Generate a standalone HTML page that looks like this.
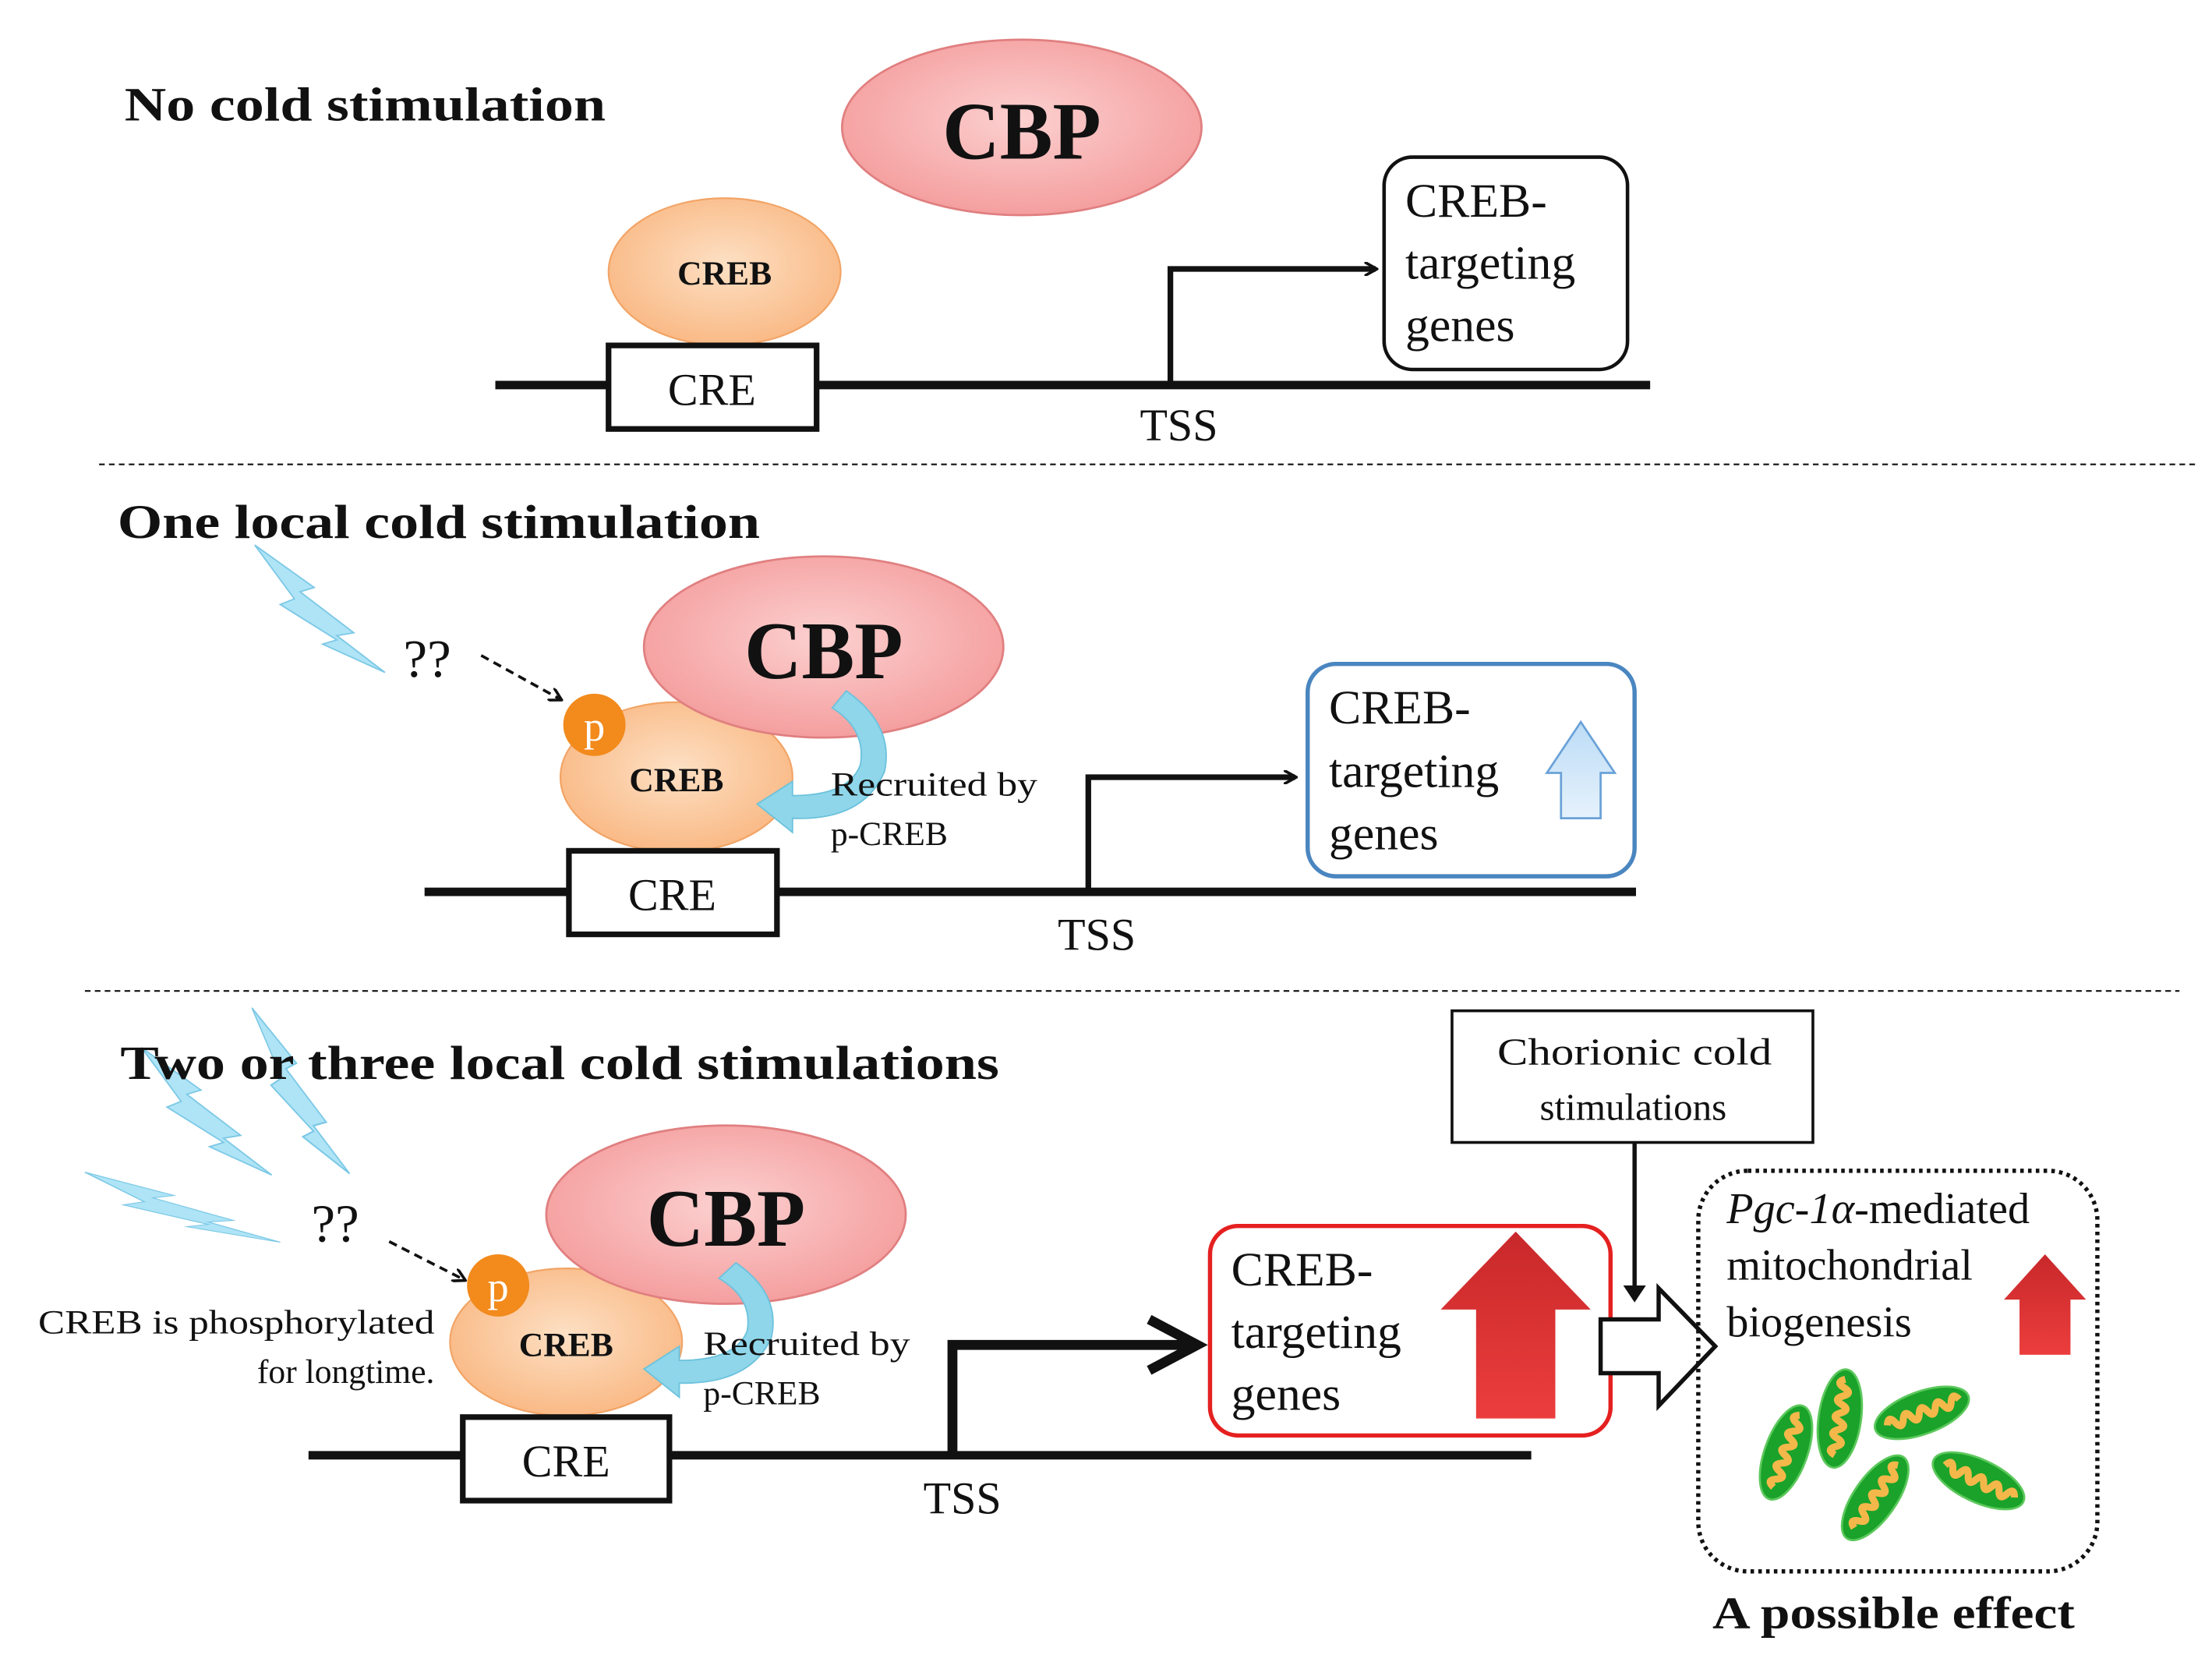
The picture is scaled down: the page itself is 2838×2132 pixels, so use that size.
<!DOCTYPE html>
<html><head><meta charset="utf-8"><style>
html,body{margin:0;padding:0;background:#fff;}
svg{display:block;}
text{font-family:"Liberation Serif",serif;fill:#111;}
.b{font-weight:bold;}
</style></head><body>
<svg width="2838" height="2132" viewBox="0 0 1563 1174" preserveAspectRatio="none" xmlns="http://www.w3.org/2000/svg">
<defs>
<radialGradient id="pk" cx="50%" cy="45%" r="60%"><stop offset="0" stop-color="#fcd0d0"/><stop offset="1" stop-color="#f49a9a"/></radialGradient>
<radialGradient id="or" cx="50%" cy="45%" r="60%"><stop offset="0" stop-color="#fde0c4"/><stop offset="1" stop-color="#f9b680"/></radialGradient>
<linearGradient id="rd" x1="0" y1="0" x2="0" y2="1"><stop offset="0" stop-color="#c8282a"/><stop offset="1" stop-color="#ec3d3d"/></linearGradient>
<linearGradient id="bl" x1="0" y1="0" x2="0" y2="1"><stop offset="0" stop-color="#bcdcf6"/><stop offset="1" stop-color="#e6f2fc"/></linearGradient>
<marker id="ah" markerWidth="10" markerHeight="10" refX="8" refY="5" orient="auto" markerUnits="userSpaceOnUse"><path d="M0,0 L9,5 L0,10" fill="none" stroke="#111" stroke-width="2"/></marker>
<marker id="ah2" markerWidth="16" markerHeight="16" refX="10" refY="8" orient="auto" markerUnits="userSpaceOnUse"><path d="M0,0 L12,8 L0,16 Z" fill="#111"/></marker>
<g id="bolt"><path d="M0,0 L42,30 L32,33 L70,62 L58,64 L92,90 L48,70 L58,67 L18,42 L28,38 Z" fill="#aee4f6" stroke="#7cc8e6" stroke-width="1"/></g>
<g id="mito"><ellipse rx="35" ry="15" fill="#1aa22a" stroke="#5cc85c" stroke-width="1.5"/><path d="M-26,0 q3,-7 6,0 t6,0 t6,0 t6,0 t6,0 t6,0 t6,0 t6,0 t6,0" fill="none" stroke="#f4b84a" stroke-width="5"/></g>
</defs>

<!-- Section 1 -->
<text x="88" y="85" font-size="34" class="b" textLength="340" lengthAdjust="spacingAndGlyphs">No cold stimulation</text>
<ellipse cx="722" cy="90" rx="127" ry="62" fill="url(#pk)" stroke="#e07f80" stroke-width="1.5"/>
<text x="722" y="112" font-size="58" class="b" text-anchor="middle" textLength="112" lengthAdjust="spacingAndGlyphs">CBP</text>
<ellipse cx="512" cy="192" rx="82" ry="52" fill="url(#or)" stroke="#f2a466" stroke-width="1.2"/>
<text x="512" y="201" font-size="24" class="b" text-anchor="middle">CREB</text>
<line x1="350" y1="272" x2="1166" y2="272" stroke="#111" stroke-width="6"/>
<rect x="430" y="244" width="147" height="59" fill="#fff" stroke="#111" stroke-width="4"/>
<text x="503" y="286" font-size="32" text-anchor="middle">CRE</text>
<polyline points="827,272 827,190 972,190" fill="none" stroke="#111" stroke-width="4" marker-end="url(#ah)"/>
<text x="833" y="311" font-size="32" text-anchor="middle">TSS</text>
<rect x="978" y="111" width="172" height="150" rx="20" fill="#fff" stroke="#111" stroke-width="2.5"/>
<text x="993" y="153" font-size="34">CREB-</text>
<text x="993" y="197" font-size="34">targeting</text>
<text x="993" y="241" font-size="34">genes</text>
<line x1="70" y1="328" x2="1553" y2="328" stroke="#111" stroke-width="1.2" stroke-dasharray="4,3"/>

<!-- Section 2 -->
<text x="83" y="380" font-size="34" class="b" textLength="454" lengthAdjust="spacingAndGlyphs">One local cold stimulation</text>
<use href="#bolt" transform="translate(180,385)"/>
<text x="285" y="478" font-size="38">??</text>
<line x1="340" y1="463" x2="396" y2="494" stroke="#111" stroke-width="2" stroke-dasharray="6,4" marker-end="url(#ah)"/>
<ellipse cx="478" cy="549" rx="82" ry="53" fill="url(#or)" stroke="#f2a466" stroke-width="1.2"/>
<ellipse cx="582" cy="457" rx="127" ry="64" fill="url(#pk)" stroke="#e07f80" stroke-width="1.5"/>
<text x="582" y="479" font-size="58" class="b" text-anchor="middle" textLength="112" lengthAdjust="spacingAndGlyphs">CBP</text>
<text x="478" y="559" font-size="24" class="b" text-anchor="middle">CREB</text>
<circle cx="420" cy="512" r="22" fill="#f28a1c"/>
<text x="420" y="523" font-size="30" text-anchor="middle" style="fill:#fff">p</text>
<path d="M598,488 Q632,512 625,545 Q610,580 560,578 L560,588 L535,568 L560,552 L560,562 Q600,562 608,540 Q612,515 588,500 Z" fill="#8fd6ea" stroke="#6cc2dc" stroke-width="1"/>
<text x="587" y="562" font-size="24" textLength="146" lengthAdjust="spacingAndGlyphs">Recruited by</text>
<text x="587" y="597" font-size="24">p-CREB</text>
<line x1="300" y1="630" x2="1156" y2="630" stroke="#111" stroke-width="6"/>
<rect x="402" y="601" width="147" height="59" fill="#fff" stroke="#111" stroke-width="4"/>
<text x="475" y="643" font-size="32" text-anchor="middle">CRE</text>
<polyline points="769,630 769,549 915,549" fill="none" stroke="#111" stroke-width="4" marker-end="url(#ah)"/>
<text x="775" y="671" font-size="32" text-anchor="middle">TSS</text>
<rect x="924" y="469" width="231" height="150" rx="20" fill="#fff" stroke="#4a86c0" stroke-width="3"/>
<text x="939" y="511" font-size="34">CREB-</text>
<text x="939" y="556" font-size="34">targeting</text>
<text x="939" y="600" font-size="34">genes</text>
<path d="M1103,578 L1103,546 L1093,546 L1117,510 L1141,546 L1131,546 L1131,578 Z" fill="url(#bl)" stroke="#6aa2d8" stroke-width="1.5"/>
<line x1="60" y1="700" x2="1540" y2="700" stroke="#111" stroke-width="1.2" stroke-dasharray="4,3"/>

<!-- Section 3 -->
<use href="#bolt" transform="translate(100,740)"/>
<use href="#bolt" transform="translate(178,712) scale(0.75,1.3)"/>
<use href="#bolt" transform="translate(60,828) scale(1.5,0.55)"/>
<text x="85" y="762" font-size="34" class="b" textLength="621" lengthAdjust="spacingAndGlyphs">Two or three local cold stimulations</text>
<text x="220" y="877" font-size="38">??</text>
<line x1="275" y1="877" x2="328" y2="904" stroke="#111" stroke-width="2" stroke-dasharray="6,4" marker-end="url(#ah)"/>
<ellipse cx="400" cy="948" rx="82" ry="52" fill="url(#or)" stroke="#f2a466" stroke-width="1.2"/>
<ellipse cx="513" cy="858" rx="127" ry="63" fill="url(#pk)" stroke="#e07f80" stroke-width="1.5"/>
<text x="513" y="880" font-size="58" class="b" text-anchor="middle" textLength="112" lengthAdjust="spacingAndGlyphs">CBP</text>
<text x="400" y="958" font-size="24" class="b" text-anchor="middle">CREB</text>
<circle cx="352" cy="908" r="22" fill="#f28a1c"/>
<text x="352" y="919" font-size="30" text-anchor="middle" style="fill:#fff">p</text>
<path d="M520,892 Q552,914 545,945 Q530,978 480,977 L480,987 L455,967 L480,951 L480,961 Q520,961 528,940 Q532,917 508,903 Z" fill="#8fd6ea" stroke="#6cc2dc" stroke-width="1"/>
<text x="27" y="942" font-size="24" textLength="280" lengthAdjust="spacingAndGlyphs">CREB is phosphorylated</text>
<text x="307" y="977" font-size="24" text-anchor="end">for longtime.</text>
<text x="497" y="957" font-size="24" textLength="146" lengthAdjust="spacingAndGlyphs">Recruited by</text>
<text x="497" y="992" font-size="24">p-CREB</text>
<line x1="218" y1="1028" x2="1082" y2="1028" stroke="#111" stroke-width="6"/>
<rect x="327" y="1001" width="146" height="59" fill="#fff" stroke="#111" stroke-width="4"/>
<text x="400" y="1043" font-size="32" text-anchor="middle">CRE</text>
<polyline points="673,1028 673,950 840,950" fill="none" stroke="#111" stroke-width="7"/>
<path d="M812,932 L846,950 L812,968" fill="none" stroke="#111" stroke-width="7"/>
<text x="680" y="1069" font-size="32" text-anchor="middle">TSS</text>
<rect x="855" y="866" width="283" height="148" rx="20" fill="#fff" stroke="#e52020" stroke-width="3"/>
<text x="870" y="908" font-size="34">CREB-</text>
<text x="870" y="952" font-size="34">targeting</text>
<text x="870" y="996" font-size="34">genes</text>
<path d="M1043,1002 L1043,925 L1018,925 L1071,870 L1124,925 L1099,925 L1099,1002 Z" fill="url(#rd)"/>
<rect x="1026" y="714" width="255" height="93" fill="#fff" stroke="#111" stroke-width="2"/>
<text x="1058" y="752" font-size="27" textLength="194" lengthAdjust="spacingAndGlyphs">Chorionic cold</text>
<text x="1154" y="791" font-size="27" text-anchor="middle">stimulations</text>
<line x1="1155" y1="807" x2="1155" y2="918" stroke="#111" stroke-width="3" marker-end="url(#ah2)"/>
<path d="M1131,932 L1172,932 L1172,910 L1212,951 L1172,993 L1172,970 L1131,970 Z" fill="#fff" stroke="#111" stroke-width="3"/>
<rect x="1200" y="827" width="282" height="283" rx="35" fill="none" stroke="#111" stroke-width="3" stroke-dasharray="2.5,3"/>
<text x="1220" y="864" font-size="31"><tspan font-style="italic">Pgc-1α</tspan>-mediated</text>
<text x="1220" y="904" font-size="31">mitochondrial</text>
<text x="1220" y="944" font-size="31">biogenesis</text>
<path d="M1427,957 L1427,918 L1416,918 L1445,886 L1474,918 L1463,918 L1463,957 Z" fill="url(#rd)"/>
<use href="#mito" transform="translate(1262,1026) rotate(-70)"/>
<use href="#mito" transform="translate(1300,1002) rotate(-82)"/>
<use href="#mito" transform="translate(1358,998) rotate(-20)"/>
<use href="#mito" transform="translate(1325,1058) rotate(-55)"/>
<use href="#mito" transform="translate(1398,1046) rotate(25)"/>
<text x="1338" y="1150" font-size="32" class="b" text-anchor="middle" textLength="256" lengthAdjust="spacingAndGlyphs">A possible effect</text>
</svg>
</body></html>
